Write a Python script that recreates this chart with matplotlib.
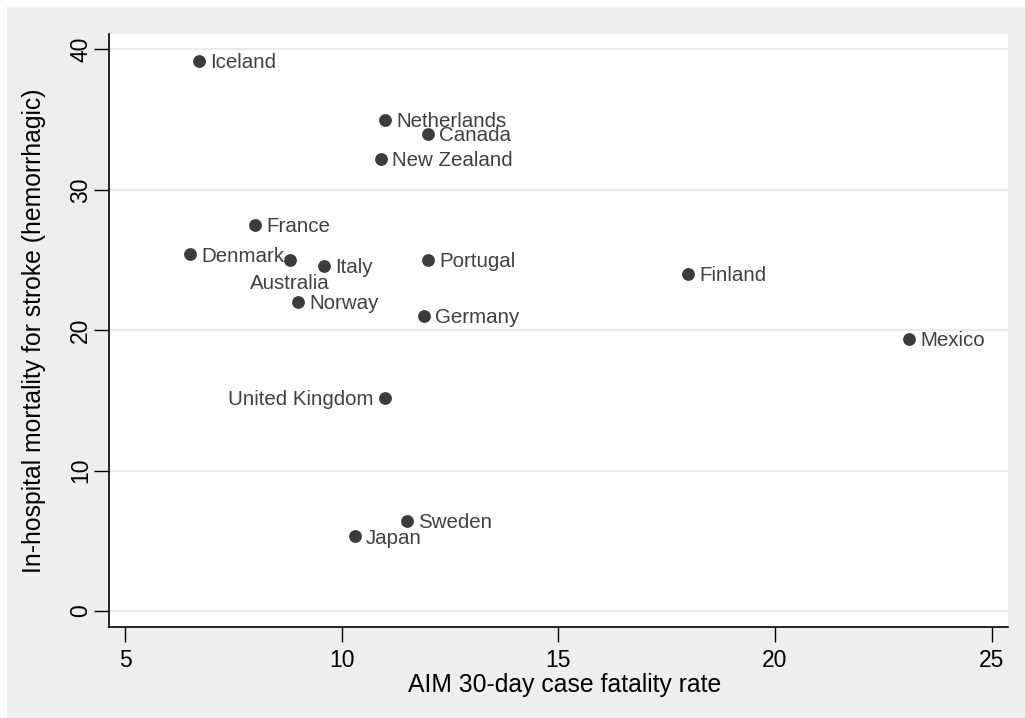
"""
Scatter of AIM 30-day case fatality vs in-hospital stroke mortality
"""

import matplotlib.pyplot as plt
from matplotlib.patches import Rectangle

plt.rcParams['font.family'] = ['Liberation Sans', 'DejaVu Sans']

countries = ['Iceland', 'Netherlands', 'Canada', 'New Zealand', 'France',
             'Denmark', 'Australia', 'Italy', 'Portugal', 'Finland', 'Norway',
             'Germany', 'Mexico', 'United Kingdom', 'Sweden', 'Japan']
aim_fatality = [6.7, 11.0, 12.0, 10.9, 8.0, 6.5, 8.8, 9.6, 12.0, 18.0, 9.0,
                11.9, 23.1, 11.0, 11.5, 10.3]
stroke_mortality = [39.2, 35.0, 34.0, 32.2, 27.5, 25.4, 25.0, 24.6, 25.0, 24.0,
                    22.0, 21.0, 19.4, 15.2, 6.4, 5.3]
# label position (Stata clock style): 3 = right, 6 = below, 9 = left
label_pos = {'Australia': 6, 'United Kingdom': 9}

x_ticks = [5, 10, 15, 20, 25]
y_ticks = [0, 10, 20, 30, 40]

fig = plt.figure(figsize=(10.25, 7.18), dpi=100, facecolor='white')
fig.patches.append(Rectangle((7 / 1025, 0), 1, 1 - 7 / 718,
                             transform=fig.transFigure, facecolor='#eeeeee',
                             edgecolor='none', zorder=-10))
ax = fig.add_axes([109 / 1025, 1 - 627 / 718, 899 / 1025, 593 / 718])
ax.set_facecolor('white')

ax.scatter(aim_fatality, stroke_mortality, s=85, color='#3c3c3c', zorder=3,
           linewidths=0)

lab_kw = dict(textcoords='offset points', fontsize=14.8, color='#404040')
for name, x, y in zip(countries, aim_fatality, stroke_mortality):
    pos = label_pos.get(name, 3)
    if pos == 3:
        ax.annotate(name, (x, y), xytext=(8, -1.2), ha='left', va='center',
                    **lab_kw)
    elif pos == 9:
        ax.annotate(name, (x, y), xytext=(-8, -1.2), ha='right', va='center',
                    **lab_kw)
    else:
        ax.annotate(name, (x, y), xytext=(0, -10), ha='center', va='top',
                    **lab_kw)

ax.set_xlim(4.63, 25.38)
ax.set_ylim(-1.15, 41.1)
ax.set_xticks(x_ticks)
ax.set_yticks(y_ticks)
ax.set_yticklabels([str(t) for t in y_ticks], rotation=90, va='center')
ax.tick_params(axis='both', direction='out', length=11, width=1,
               labelsize=16.5, colors='black')
ax.tick_params(axis='x', pad=5)
ax.tick_params(axis='y', pad=1)
ax.grid(True, axis='y', color='#eaeaea', linewidth=1.6)
ax.set_axisbelow(True)

for side in ['top', 'right']:
    ax.spines[side].set_visible(False)
for side in ['left', 'bottom']:
    ax.spines[side].set_linewidth(1.2)
    ax.spines[side].set_color('black')

ax.set_xlabel('AIM 30-day case fatality rate', fontsize=17.8)
ax.xaxis.set_label_coords(0.507, -0.077)
ax.set_ylabel('In-hospital mortality for stroke (hemorrhagic)', fontsize=17.8,
              labelpad=17)

plt.savefig('out.png', dpi=100, facecolor=fig.get_facecolor())
